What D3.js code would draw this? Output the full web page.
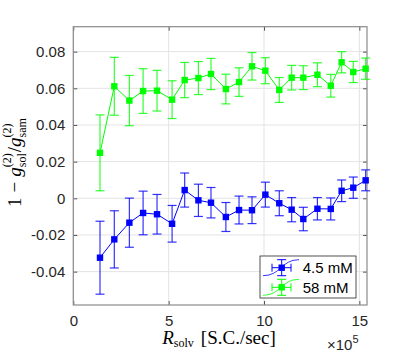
<!DOCTYPE html>
<html>
<head>
<meta charset="utf-8">
<script src="https://cdn.jsdelivr.net/npm/d3@7"></script>
<style>
  body { margin: 0; background: #fff; }
  svg { display: block; }
</style>
</head>
<body>
<script>
const width = 407;
const height = 361;

// x positions in units of 10^5 S.C./sec
const rate = [1.4, 2.15, 2.94, 3.66, 4.39, 5.18, 5.84, 6.56, 7.22, 8.0, 8.69,
  9.37, 10.07, 10.8, 11.45, 12.06, 12.8, 13.5, 14.07, 14.68, 15.33];

// 4.5 mM
const lowMean = [-0.0324, -0.0224, -0.0133, -0.008, -0.0087, -0.0139, 0.0045,
  -0.0011, -0.0024, -0.0102, -0.0064, -0.0065, 0.002, -0.0027, -0.0062,
  -0.0113, -0.0057, -0.0058, 0.0041, 0.0058, 0.0098];
const lowErr = [0.0199, 0.0156, 0.0134, 0.0119, 0.0108, 0.01, 0.0093, 0.0088,
  0.0083, 0.0079, 0.0076, 0.0073, 0.0068, 0.0068, 0.0066, 0.0064, 0.0061,
  0.006, 0.0059, 0.0058, 0.0057];

// 58 mM
const highMean = [0.0248, 0.0611, 0.0533, 0.0585, 0.0587, 0.0538, 0.0645,
  0.0656, 0.0678, 0.0596, 0.0634, 0.072, 0.0696, 0.0591, 0.0658, 0.0658,
  0.0674, 0.0614, 0.0742, 0.0689, 0.0707];
const highErr = [0.0207, 0.0158, 0.0137, 0.0122, 0.0111, 0.0103, 0.0096,
  0.009, 0.0085, 0.0081, 0.0078, 0.0075, 0.0071, 0.0068, 0.0067, 0.0065,
  0.0065, 0.0062, 0.0058, 0.0058, 0.0058];

const xTicks = [0, 5, 10, 15];
const yTicks = [-0.04, -0.02, 0, 0.02, 0.04, 0.06, 0.08];
const yTickLabels = ["-0.04", "-0.02", "0", "0.02", "0.04", "0.06", "0.08"];
const legendLabels = ["4.5 mM", "58 mM"];

const margin = { left: 73.3, right: 40, top: 26.7, bottom: 56 };
const x = d3.scaleLinear().domain([0, 15.4]).range([margin.left, width - margin.right]);
const y = d3.scaleLinear().domain([-0.0582, 0.0936]).range([height - margin.bottom, margin.top]);

const svg = d3.select("body").append("svg")
  .attr("width", width)
  .attr("height", height);

const x0 = x.range()[0], x1 = x.range()[1];
const y0 = y.range()[0], y1 = y.range()[1];

// grid
svg.append("g").selectAll("line").data(xTicks).join("line")
  .attr("x1", d => x(d)).attr("x2", d => x(d))
  .attr("y1", y0).attr("y2", y1)
  .attr("stroke", "#e3e3e3").attr("stroke-width", 1);
svg.append("g").selectAll("line").data(yTicks).join("line")
  .attr("x1", x0).attr("x2", x1)
  .attr("y1", d => y(d)).attr("y2", d => y(d))
  .attr("stroke", "#e3e3e3").attr("stroke-width", 1);

// axes (ticks point inward, mirrored on top and right)
const fontSans = "'Liberation Sans', Arial, sans-serif";
const axisColor = "#8a8a8a";

const gx = svg.append("g").attr("transform", `translate(0,${y0})`)
  .call(d3.axisBottom(x).tickValues(xTicks).tickSize(-4).tickPadding(10).tickFormat(d3.format("d")));
const gxTop = svg.append("g").attr("transform", `translate(0,${y1})`)
  .call(d3.axisTop(x).tickValues(xTicks).tickSize(-4).tickFormat(""));
const gy = svg.append("g").attr("transform", `translate(${x0},0)`)
  .call(d3.axisLeft(y).tickValues(yTicks).tickSize(-4).tickPadding(8)
    .tickFormat((d, i) => yTickLabels[i]));
const gyRight = svg.append("g").attr("transform", `translate(${x1},0)`)
  .call(d3.axisRight(y).tickValues(yTicks).tickSize(-4).tickFormat(""));

[gx, gxTop, gy, gyRight].forEach(g => {
  g.select(".domain").remove();
  g.selectAll(".tick line").attr("stroke", "#555");
  g.selectAll("text").attr("font-family", fontSans).attr("font-size", 15).attr("fill", "#262626");
});

svg.append("rect")
  .attr("x", x0).attr("y", y1)
  .attr("width", x1 - x0).attr("height", y0 - y1)
  .attr("fill", "none").attr("stroke", axisColor).attr("stroke-width", 1.2);

// series
function drawSeries(mean, err, color) {
  const g = svg.append("g");
  const pts = rate.map((r, i) => ({ r, m: mean[i], e: err[i] }));
  g.append("path")
    .datum(pts)
    .attr("d", d3.line().x(d => x(d.r)).y(d => y(d.m)))
    .attr("fill", "none").attr("stroke", color).attr("stroke-width", 1);
  const bars = g.selectAll(".eb").data(pts).join("g")
    .attr("stroke", color).attr("stroke-width", 1.2).attr("stroke-opacity", 0.8);
  bars.append("line")
    .attr("x1", d => x(d.r)).attr("x2", d => x(d.r))
    .attr("y1", d => y(d.m - d.e)).attr("y2", d => y(d.m + d.e));
  bars.append("line")
    .attr("x1", d => x(d.r) - 4.5).attr("x2", d => x(d.r) + 4.5)
    .attr("y1", d => y(d.m + d.e)).attr("y2", d => y(d.m + d.e));
  bars.append("line")
    .attr("x1", d => x(d.r) - 4.5).attr("x2", d => x(d.r) + 4.5)
    .attr("y1", d => y(d.m - d.e)).attr("y2", d => y(d.m - d.e));
  g.selectAll("rect").data(pts).join("rect")
    .attr("x", d => x(d.r) - 3.2).attr("y", d => y(d.m) - 3.2)
    .attr("width", 6.4).attr("height", 6.4)
    .attr("fill", color);
}
drawSeries(lowMean, lowErr, "#0000ff");
drawSeries(highMean, highErr, "#00ff00");

// legend
const legend = svg.append("g");
legend.append("rect")
  .attr("x", 260).attr("y", 256).attr("width", 96).attr("height", 42)
  .attr("fill", "#fff").attr("stroke", "#262626").attr("stroke-width", 0.8);
[["#0000ff", 267.7], ["#00ff00", 287.3]].forEach(([c, cy], i) => {
  const item = legend.append("g").attr("stroke", c).attr("fill", "none");
  const mx = 281.7;
  item.append("path")
    .attr("d", `M263,${cy + 8} C281,${cy + 8} 281,${cy - 8} 299,${cy - 8}`)
    .attr("stroke-width", 0.8);
  item.append("line").attr("x1", 272).attr("x2", 291).attr("y1", cy).attr("y2", cy);
  item.append("line").attr("x1", 272).attr("x2", 272).attr("y1", cy - 4).attr("y2", cy + 4);
  item.append("line").attr("x1", 291).attr("x2", 291).attr("y1", cy - 4).attr("y2", cy + 4);
  item.append("line").attr("x1", mx).attr("x2", mx).attr("y1", cy - 8).attr("y2", cy + 8);
  item.append("line").attr("x1", mx - 4.5).attr("x2", mx + 4.5).attr("y1", cy - 8).attr("y2", cy - 8);
  item.append("line").attr("x1", mx - 4.5).attr("x2", mx + 4.5).attr("y1", cy + 8).attr("y2", cy + 8);
  item.append("rect").attr("x", mx - 3.2).attr("y", cy - 3.2).attr("width", 6.4).attr("height", 6.4)
    .attr("fill", c).attr("stroke", "none");
  legend.append("text")
    .attr("x", 302.7).attr("y", cy + 5.5)
    .attr("font-family", fontSans).attr("font-size", 15).attr("fill", "#000")
    .text(legendLabels[i]);
});

// labels (LaTeX-like serif)
const fontSerif = "'Liberation Serif', 'DejaVu Serif', serif";

// x label: R_solv [S.C./sec]
const xl = svg.append("text")
  .attr("x", 219).attr("y", 344)
  .attr("text-anchor", "middle")
  .attr("font-family", fontSerif).attr("font-size", 19).attr("fill", "#000");
xl.append("tspan").attr("font-style", "italic").text("R");
xl.append("tspan").attr("font-size", 12).attr("dy", 3).text("solv");
xl.append("tspan").attr("dy", -3).attr("dx", 7).text("[S.C./sec]");

// x exponent
const ex = svg.append("text")
  .attr("x", 327).attr("y", 350)
  .attr("font-family", fontSans).attr("font-size", 15).attr("fill", "#262626");
ex.append("tspan").text("×10");
ex.append("tspan").attr("font-size", 11).attr("dy", -7).text("5");

// y label: 1 − g_sol^(2) / g_sam^(2), rotated
const yl = svg.append("g").attr("transform", "translate(21,162) rotate(-90)");
const parts = [];
let cursor = 0;
function piece(str, opts) {
  const t = yl.append("text")
    .attr("font-family", fontSerif)
    .attr("font-size", opts.size || 19)
    .attr("font-style", opts.italic ? "italic" : "normal")
    .attr("fill", "#000")
    .attr("x", cursor).attr("y", opts.dy || 0)
    .text(str);
  return t;
}
function add(str, opts) {
  const t = piece(str, opts);
  cursor += t.node().getComputedTextLength() + (opts.gap || 0);
  parts.push(t);
}
function stack(sub, sup) {
  const a = piece(sub, { size: 12, dy: 5 });
  const b = piece(sup, { size: 12, dy: -10 });
  parts.push(a, b);
  cursor += Math.max(a.node().getComputedTextLength(), b.node().getComputedTextLength()) + 1;
}
add("1", { gap: 5 });
add("\u2212", { gap: 5 });
add("g", { italic: true });
stack("sol", "(2)");
add("/", {});
add("g", { italic: true });
stack("sam", "(2)");
parts.forEach(t => t.attr("x", +t.attr("x") - cursor / 2));
</script>
</body>
</html>
